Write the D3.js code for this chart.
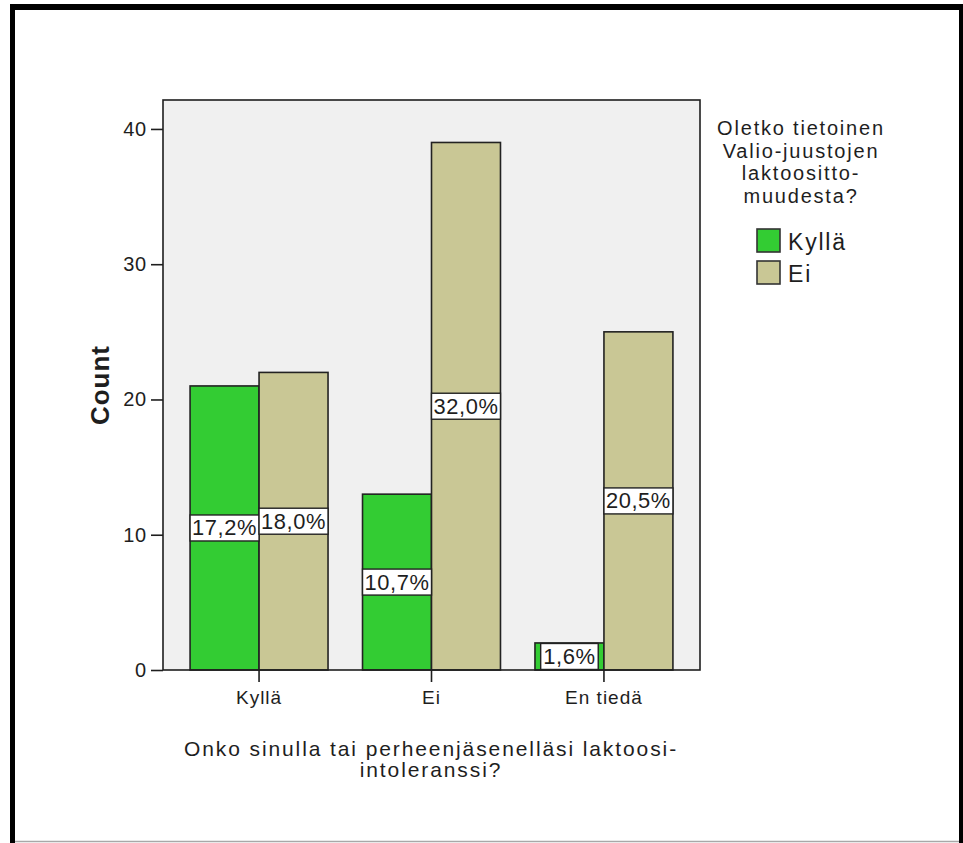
<!DOCTYPE html>
<html>
<head>
<meta charset="utf-8">
<script src="https://cdn.jsdelivr.net/npm/d3@7"></script>
<style>
  body { margin: 0; background: #fff; }
  svg { display: block; }
  text { font-family: "Liberation Sans", Arial, sans-serif; fill: #1e1e1e; }
</style>
</head>
<body>
<svg id="chart" width="963" height="843"></svg>
<script>
// Counts per answer to "Onko sinulla tai perheenjäsenelläsi laktoosi-intoleranssi?"
const categories = ["Kyllä", "Ei", "En tiedä"];
const seriesNames = ["Kyllä", "Ei"];
const kyllaCounts = [21, 13, 2];
const eiCounts = [22, 39, 25];
const yTicks = [0, 10, 20, 30, 40];
const seriesColors = ["#33cc33", "#c9c795"];
const xTitleLines = ["Onko sinulla tai perheenjäsenelläsi laktoosi-", "intoleranssi?"];
const legendTitleLines = ["Oletko tietoinen", "Valio-juustojen", "laktoositto-", "muudesta?"];
const yTitle = "Count";

const seriesCounts = [kyllaCounts, eiCounts];
const total = d3.sum(seriesCounts.flat());
const rows = [];
categories.forEach((c, i) => {
  seriesNames.forEach((s, j) => rows.push({ cat: c, series: s, si: j, value: seriesCounts[j][i] }));
});

const svg = d3.select("#chart");
const W = 963, H = 843;
const plot = { left: 163, top: 100, right: 700, bottom: 670 };

// Outer frame
svg.append("rect").attr("x", 0).attr("y", 0).attr("width", W).attr("height", H).attr("fill", "#fff");
svg.append("line").attr("x1", 15).attr("x2", 959).attr("y1", 841.5).attr("y2", 841.5)
  .attr("stroke", "#a8a8a8").attr("stroke-width", 1.5);
svg.append("rect").attr("x", 10).attr("y", 4).attr("width", 5).attr("height", H - 4).attr("fill", "#000");
svg.append("rect").attr("x", 10).attr("y", 4).attr("width", 953).attr("height", 6).attr("fill", "#000");
svg.append("rect").attr("x", 959).attr("y", 4).attr("width", 4).attr("height", H - 4).attr("fill", "#000");

// Scales
const x0 = d3.scaleBand().domain(categories).range([plot.left, plot.right])
  .paddingInner(0.2).paddingOuter(0.157);
const x1 = d3.scaleBand().domain(seriesNames).range([0, x0.bandwidth()]).padding(0);
const y = d3.scaleLinear().domain([0, 42.14]).range([plot.bottom, plot.top]);
const color = d3.scaleOrdinal().domain(seriesNames).range(seriesColors);

// Plot background
svg.append("rect")
  .attr("x", plot.left).attr("y", plot.top)
  .attr("width", plot.right - plot.left).attr("height", plot.bottom - plot.top)
  .attr("fill", "#f0f0f0");

// Bars
svg.append("g").selectAll("rect").data(rows).join("rect")
  .attr("x", d => x0(d.cat) + x1(d.series))
  .attr("y", d => y(d.value))
  .attr("width", x1.bandwidth())
  .attr("height", d => y(0) - y(d.value))
  .attr("fill", d => color(d.series))
  .attr("stroke", "#222")
  .attr("stroke-width", 1.6);

// Plot frame
svg.append("rect")
  .attr("x", plot.left).attr("y", plot.top)
  .attr("width", plot.right - plot.left).attr("height", plot.bottom - plot.top)
  .attr("fill", "none").attr("stroke", "#1e1e1e").attr("stroke-width", 1.6);

// Percentage labels centred on each bar
const pctFmt = v => d3.format(".1f")(v / total * 100).replace(".", ",") + "%";
const labelG = svg.append("g");
rows.forEach(d => {
  const cx = x0(d.cat) + x1(d.series) + x1.bandwidth() / 2;
  const cy = y(d.value / 2);
  const g = labelG.append("g");
  const box = g.append("rect");
  const t = g.append("text")
    .attr("x", cx).attr("y", cy)
    .attr("text-anchor", "middle")
    .attr("dominant-baseline", "central")
    .style("font-size", "22px")
    .style("letter-spacing", "0.6px")
    .text(pctFmt(d.value));
  let tw = t.node().getComputedTextLength();
  const maxW = x1.bandwidth() - 4;
  if (tw > maxW) { t.attr("textLength", maxW).attr("lengthAdjust", "spacingAndGlyphs"); tw = maxW; }
  const bw = Math.min(tw + 5, x1.bandwidth());
  box.attr("x", cx - bw / 2).attr("y", cy - 13).attr("width", bw).attr("height", 26)
    .attr("fill", "#fff").attr("stroke", "#222").attr("stroke-width", 1.4);
});

// Y axis
const yAxis = svg.append("g").attr("transform", `translate(${plot.left},0)`)
  .call(d3.axisLeft(y).tickValues(yTicks).tickSize(12).tickSizeOuter(0).tickPadding(4).tickFormat(d3.format("d")));
yAxis.select(".domain").remove();
yAxis.selectAll("line").attr("stroke", "#1e1e1e").attr("stroke-width", 1.6);
yAxis.selectAll("text").style("font-size", "20px").style("letter-spacing", "0.8px").attr("fill", "#1e1e1e");

// X axis
const xAxis = svg.append("g").attr("transform", `translate(0,${plot.bottom})`)
  .call(d3.axisBottom(x0).tickSize(12).tickSizeOuter(0).tickPadding(9));
xAxis.select(".domain").remove();
xAxis.selectAll("line").attr("stroke", "#1e1e1e").attr("stroke-width", 1.6);
xAxis.selectAll("text").style("font-size", "19px").style("letter-spacing", "1px").attr("fill", "#1e1e1e");

// Axis titles
svg.append("text")
  .attr("transform", "translate(100,385) rotate(-90)")
  .attr("text-anchor", "middle").attr("dominant-baseline", "central")
  .style("font-size", "26px").style("font-weight", "bold").style("letter-spacing", "1px")
  .text(yTitle);

svg.append("g").selectAll("text").data(xTitleLines).join("text")
  .attr("x", (plot.left + plot.right) / 2 - 0.5)
  .attr("y", (d, i) => 756 + i * 21)
  .attr("text-anchor", "middle")
  .style("font-size", "21px").style("letter-spacing", "1.9px")
  .text(d => d);

// Legend
const legend = svg.append("g");
legend.selectAll("text.title").data(legendTitleLines).join("text")
  .attr("class", "title")
  .attr("x", 801)
  .attr("y", (d, i) => 135 + i * 22.5)
  .attr("text-anchor", "middle")
  .style("font-size", "20px").style("letter-spacing", "1.8px")
  .text(d => d);

const items = legend.selectAll("g.item").data(seriesNames).join("g")
  .attr("class", "item")
  .attr("transform", (d, i) => `translate(757,${229 + i * 32})`);
items.append("rect")
  .attr("width", 23).attr("height", 23)
  .attr("fill", d => color(d)).attr("stroke", "#333").attr("stroke-width", 1.6);
items.append("text")
  .attr("x", 31).attr("y", 12.5)
  .attr("dominant-baseline", "central")
  .style("font-size", "23px").style("letter-spacing", "1.8px")
  .text(d => d);
</script>
</body>
</html>
